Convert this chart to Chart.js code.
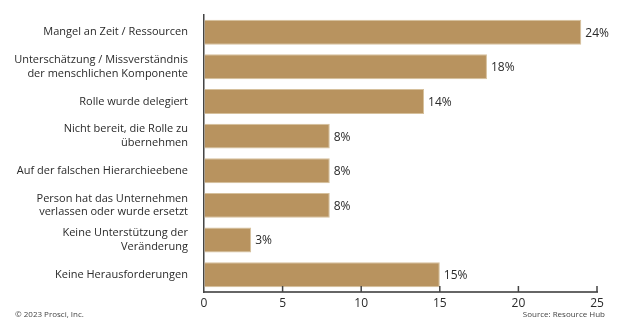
<!DOCTYPE html>
<html><head><meta charset="utf-8">
<script src="https://cdn.jsdelivr.net/npm/chart.js@4"></script>
<style>
html,body{margin:0;padding:0;background:#fff}
#wrap{position:relative;width:627px;height:328px}
.ft{position:absolute;font-family:'Open Sans',sans-serif;font-size:8px;color:#444;top:309px;line-height:10px}
</style></head><body>
<div id="wrap"><canvas id="c" width="627" height="328"></canvas>
<div class="ft" style="left:15px">© 2023 Prosci, Inc.</div>
<div class="ft" style="right:22px">Source: Resource Hub</div></div>
<script>
const categories = [
  "Mangel an Zeit / Ressourcen",
  ["Unterschätzung / Missverständnis", "der menschlichen Komponente"],
  "Rolle wurde delegiert",
  ["Nicht bereit, die Rolle zu", "übernehmen"],
  "Auf der falschen Hierarchieebene",
  ["Person hat das Unternehmen", "verlassen oder wurde ersetzt"],
  ["Keine Unterstützung der", "Veränderung"],
  "Keine Herausforderungen"
];
const values = [24, 18, 14, 8, 8, 8, 3, 15];
const xTicks = [0, 5, 10, 15, 20, 25];

const valueLabels = {
  id: 'valueLabels',
  afterDatasetsDraw(chart) {
    const ctx = chart.ctx;
    const meta = chart.getDatasetMeta(0);
    ctx.save();
    ctx.font = "12px 'Open Sans'";
    ctx.fillStyle = '#2a2a2a';
    ctx.textAlign = 'left';
    ctx.textBaseline = 'middle';
    meta.data.forEach((bar, i) => {
      ctx.fillText(values[i] + '%', bar.x + 4, bar.y + 1);
    });
    ctx.restore();
  }
};

const innerTicks = {
  id: 'innerTicks',
  afterDraw(chart) {
    const ctx = chart.ctx;
    const xs = chart.scales.x;
    const bottom = chart.chartArea.bottom;
    ctx.save();
    ctx.strokeStyle = '#444';
    ctx.lineWidth = 1.5;
    xTicks.forEach(v => {
      if (v === 0) return;
      const px = xs.getPixelForValue(v);
      ctx.beginPath();
      ctx.moveTo(px, bottom);
      ctx.lineTo(px, bottom - 6);
      ctx.stroke();
    });
    ctx.restore();
  }
};

new Chart(document.getElementById('c'), {
  type: 'bar',
  data: {
    labels: categories,
    datasets: [{
      data: values,
      backgroundColor: '#b8935f',
      borderColor: '#d6c09c',
      borderWidth: 1,
      barPercentage: 0.72,
      categoryPercentage: 1
    }]
  },
  options: {
    indexAxis: 'y',
    responsive: false,
    animation: false,
    layout: { padding: { top: 13, right: 30, bottom: 0, left: 0 } },
    plugins: { legend: { display: false }, tooltip: { enabled: false } },
    scales: {
      x: {
        min: 0, max: 25,
        afterBuildTicks(scale) { scale.ticks = xTicks.map(v => ({ value: v })); },
        afterFit(scale) { scale.height = 36; },
        grid: { drawOnChartArea: false, drawTicks: false },
        border: { color: '#666', width: 2 },
        ticks: { padding: 4, color: '#2a2a2a', font: { family: 'Open Sans', size: 12 } }
      },
      y: {
        afterFit(scale) { scale.width = 204; },
        grid: { display: false },
        border: { color: '#444', width: 1.5 },
        ticks: { padding: 8, color: '#2a2a2a', font: { family: 'Open Sans', size: 11, lineHeight: 1.25 } }
      }
    }
  },
  plugins: [valueLabels, innerTicks]
});
</script>
</body></html>
